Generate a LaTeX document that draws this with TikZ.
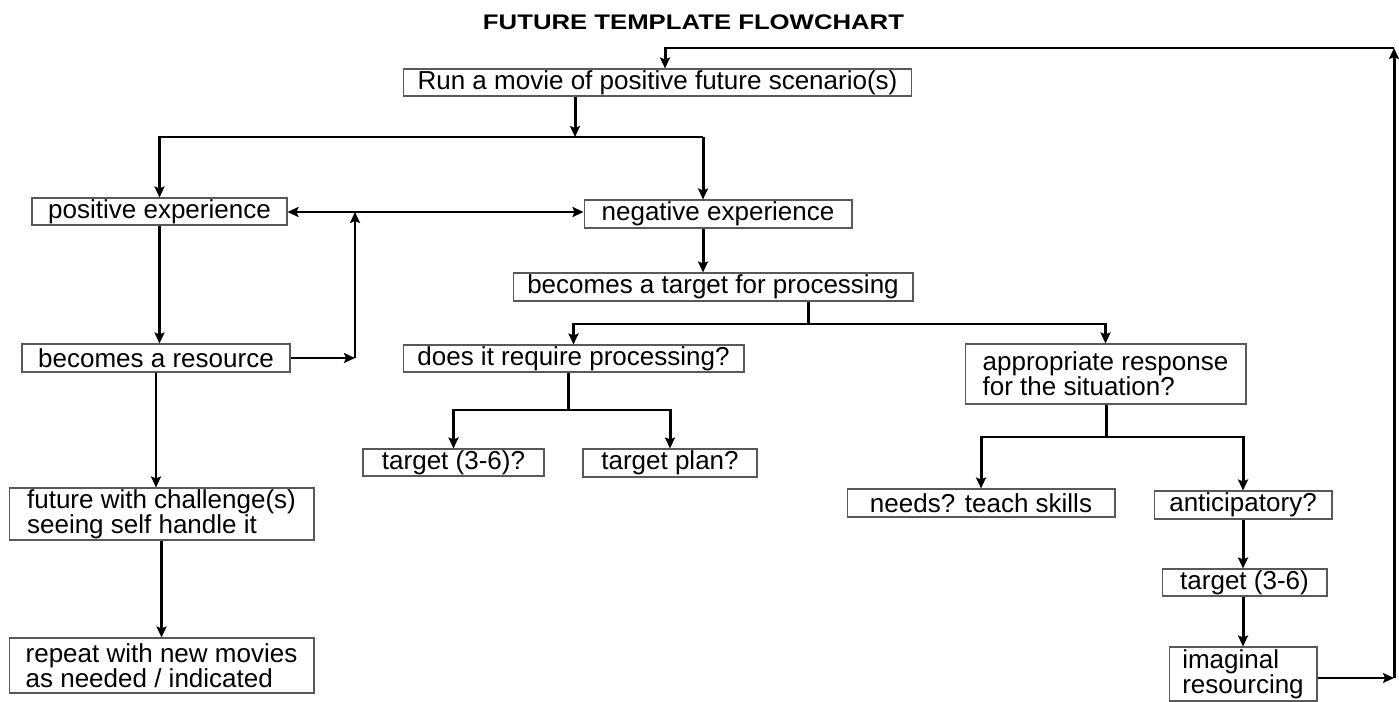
\documentclass[tikz,border=0pt]{standalone}
\usepackage{fontspec}
\setmainfont{Liberation Sans}
\newfontfamily\titlefont[FakeStretch=1.22]{Liberation Sans}
\usetikzlibrary{arrows.meta}
\tikzset{
  box/.style={draw=black!65, line width=0.6pt, inner sep=0pt, align=left,
    font=\fontsize{14.8pt}{14.2pt}\selectfont},
  conn/.style={line width=1.7pt},
  arr/.style={conn, -{Stealth[length=0.22cm,width=0.2cm,inset=0.04cm]}},
  twoarr/.style={conn, {Stealth[length=0.22cm,width=0.2cm,inset=0.04cm]}-{Stealth[length=0.22cm,width=0.2cm,inset=0.04cm]}},
}
\begin{document}
\begin{tikzpicture}[x=0.02cm, y=-0.02cm]
\useasboundingbox (0,0) rectangle (1399,702);
% title
\node[font=\titlefont\bfseries\fontsize{12pt}{14pt}\selectfont, anchor=base] (title) at (693.5,30) {FUTURE TEMPLATE FLOWCHART};
% boxes
\node[box, minimum width=10.18cm, minimum height=0.54cm] (run) at (657.5,82.5) {Run a movie of positive future scenario(s)};
\node[box, minimum width=5.1cm, minimum height=0.54cm] (pos) at (159.5,211.5) {positive experience};
\node[box, minimum width=5.36cm, minimum height=0.56cm] (neg) at (718,214) {negative experience};
\node[box, minimum width=5.36cm, minimum height=0.56cm] (res) at (156,358) {becomes a resource};
\node[box, minimum width=8cm, minimum height=0.56cm] (tgt) at (713,287) {becomes a target for processing};
\node[box, minimum width=6.82cm, minimum height=0.54cm] (req) at (573.5,358.5) {does it require processing?};
\node[box, minimum width=5.62cm, minimum height=1.2cm] (appr) at (1105.5,374) {appropriate response\\for the situation?};
\node[box, minimum width=3.62cm, minimum height=0.54cm] (tq) at (453.5,462.5) {target (3-6)?};
\node[box, minimum width=3.48cm, minimum height=0.56cm] (plan) at (670,463) {target plan?};
\node[box, minimum width=5.36cm, minimum height=0.56cm] (needs) at (981,503) {needs? teach skills};
\node[box, minimum width=3.56cm, minimum height=0.56cm] (antic) at (1243,505) {anticipatory?};
\node[box, minimum width=3.3cm, minimum height=0.54cm] (tsix) at (1244.5,582.5) {target (3-6)};
\node[box, minimum width=2.96cm, minimum height=1.08cm] (imag) at (1243,674) {imaginal\\resourcing};
\node[box, minimum width=6.1cm, minimum height=1.04cm] (fut) at (161.5,514) {future with challenge(s)\\seeing self handle it};
\node[box, minimum width=6.1cm, minimum height=1.1cm] (rep) at (161.5,665.5) {repeat with new movies\\as needed / indicated};
% junctions
\coordinate (fa) at (1394,678);
\coordinate (fb) at (1394,48);
\coordinate (fc) at (665,48);
\coordinate (ja) at (575,137);
\coordinate (jb) at (703,137);
\coordinate (jc) at (355,212);
\coordinate (jd) at (808,324);
\coordinate (je) at (568,410);
\coordinate (jf) at (1106,437);
% feedback loop
\draw[arr] (imag.east |- fa) -- (fa);
\draw[arr] (fa) -- (fb);
\draw[arr] (fb) -- (fc) -- (fc |- run.north);
% top split
\draw[arr] (run.south -| ja) -- (ja);
\draw[arr] (jb) -| (pos);
\draw[arr] (jb) -- (jb |- neg.north);
\draw[twoarr] (pos.east |- jc) -- (neg.west |- jc);
\draw[arr] (res.east) -- (res.east -| jc);
\draw[arr] (res.east -| jc) -- (jc);
% left column
\draw[arr] (pos.south) -- (pos.south |- res.north);
\draw[arr] (res.south) -- (res.south |- fut.north);
\draw[arr] (fut.south) -- (fut.south |- rep.north);
% right side
\draw[arr] (neg.south -| jb) -- (tgt.north -| jb);
\draw[conn] (tgt.south -| jd) -- (jd);
\draw[arr] (jd) -| (req);
\draw[arr] (jd) -| (appr);
\draw[conn] (req.south -| je) -- (je);
\draw[arr] (je) -| (tq);
\draw[arr] (je) -| (plan);
\draw[conn] (appr.south -| jf) -- (jf);
\draw[arr] (jf) -| (needs);
\draw[arr] (jf) -| (antic);
\draw[arr] (antic.south) -- (antic.south |- tsix.north);
\draw[arr] (tsix.south -| antic.south) -- (imag.north -| antic.south);
\end{tikzpicture}
\end{document}
